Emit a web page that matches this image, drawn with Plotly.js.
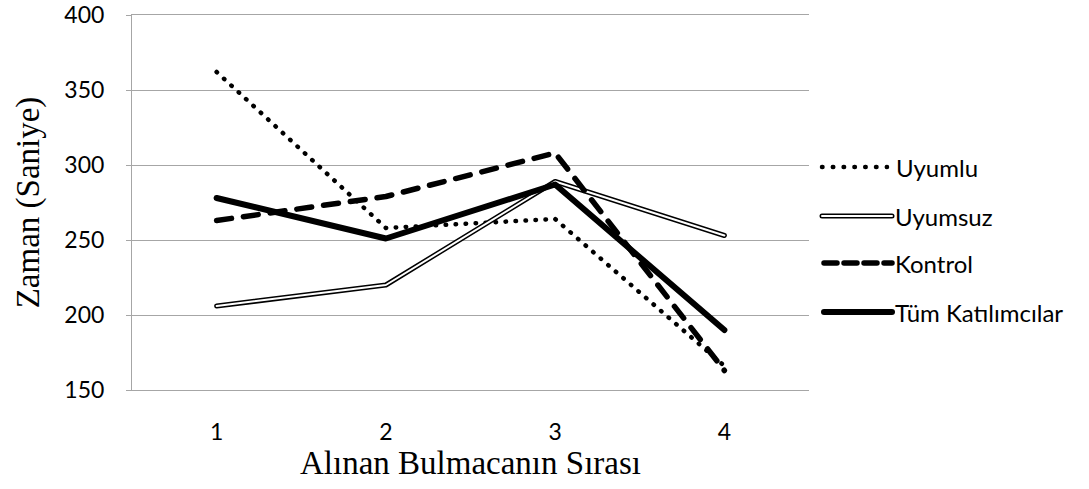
<!DOCTYPE html>
<html>
<head>
<meta charset="utf-8">
<script src="https://cdn.plot.ly/plotly-3.0.1.min.js"></script>
<style>
html,body{margin:0;padding:0;background:#fff;}
#chart{width:1089px;height:489px;}
.scatterlayer path.js-line, .shapelayer path{stroke-linecap:round;stroke-linejoin:round;}
</style>
</head>
<body>
<div id="chart"></div>
<script>
const categories = ['1', '2', '3', '4'];
const uyumlu = [362, 258, 264, 166];
const uyumsuz = [206, 220, 289, 253];
const kontrol = [263, 279, 308, 163];
const tumKatilimcilar = [278, 251, 287, 190];
const seriesNames = ['Uyumlu', 'Uyumsuz', 'Kontrol', 'Tüm Katılımcılar'];
const yTicks = [150, 200, 250, 300, 350, 400];

const W = 1089, H = 489;
const M = {l: 132, r: 280, t: 15, b: 99};
const PW = W - M.l - M.r, PH = H - M.t - M.b;
const px = x => (x - M.l) / PW;
const py = y => (H - M.b - y) / PH;

const grid = '#a6a6a6';
const traces = [
  {x: categories, y: uyumlu, name: seriesNames[0], mode: 'lines',
   line: {color: '#000', width: 4.5, dash: '0.5px,9.5px'}},
  {x: categories, y: uyumsuz, name: seriesNames[1], mode: 'lines',
   line: {color: '#000', width: 5}},
  {x: categories, y: uyumsuz, name: seriesNames[1], mode: 'lines',
   line: {color: '#fff', width: 2}},
  {x: categories, y: kontrol, name: seriesNames[2], mode: 'lines',
   line: {color: '#000', width: 5.5, dash: '15px,12px'}},
  {x: categories, y: tumKatilimcilar, name: seriesNames[3], mode: 'lines',
   line: {color: '#000', width: 6}}
];

// custom legend (double line needs two strokes)
const legendY = [167, 216, 263, 312];
const shapes = [];
const annotations = [];
const lx0 = px(822), lx1 = px(892);
shapes.push({type: 'line', xref: 'paper', yref: 'paper', x0: lx0, x1: px(887), y0: py(legendY[0]), y1: py(legendY[0]),
  line: {color: '#000', width: 4.5, dash: '0.5px,10.3px'}});
shapes.push({type: 'line', xref: 'paper', yref: 'paper', x0: lx0, x1: lx1, y0: py(legendY[1]), y1: py(legendY[1]),
  line: {color: '#000', width: 5}});
shapes.push({type: 'line', xref: 'paper', yref: 'paper', x0: lx0, x1: lx1, y0: py(legendY[1]), y1: py(legendY[1]),
  line: {color: '#fff', width: 2}});
shapes.push({type: 'line', xref: 'paper', yref: 'paper', x0: px(824), x1: lx1, y0: py(legendY[2]), y1: py(legendY[2]),
  line: {color: '#000', width: 5.5, dash: '13px,7px'}});
shapes.push({type: 'line', xref: 'paper', yref: 'paper', x0: px(824), x1: lx1, y0: py(legendY[3]), y1: py(legendY[3]),
  line: {color: '#000', width: 6}});
seriesNames.forEach((n, i) => {
  annotations.push({xref: 'paper', yref: 'paper', x: px(i === 0 ? 894 : 893), y: py(legendY[i]),
    xanchor: 'left', yanchor: 'middle', text: n, showarrow: false,
    font: {family: 'Lato, sans-serif', size: 24, color: '#000'}});
});

const layout = {
  width: W, height: H,
  margin: M,
  paper_bgcolor: '#fff', plot_bgcolor: '#fff',
  showlegend: false,
  xaxis: {
    type: 'category', range: [-0.5, 3.5],
    showgrid: false, zeroline: false,
    showline: true, mirror: true, linecolor: grid, linewidth: 1,
    ticks: '', ticklabelstandoff: 21,
    tickfont: {family: 'Lato, sans-serif', size: 23, color: '#000'},
    title: {text: 'Alınan Bulmacanın Sırası', standoff: 6,
      font: {family: 'Liberation Serif, Times New Roman, serif', size: 33, color: '#000'}},
    fixedrange: true
  },
  yaxis: {
    range: [150, 400], tickvals: yTicks, ticktext: yTicks.map(String),
    showgrid: true, gridcolor: grid, gridwidth: 1,
    zeroline: false, showline: true, linecolor: grid, linewidth: 1,
    ticks: 'outside', ticklen: 5, tickcolor: grid,
    ticklabelstandoff: 17,
    tickfont: {family: 'Lato, sans-serif', size: 23, color: '#000'},
    title: {text: 'Zaman (Saniye)', standoff: 14,
      font: {family: 'Liberation Serif, Times New Roman, serif', size: 33, color: '#000'}},
    fixedrange: true
  },
  shapes: shapes,
  annotations: annotations
};

Plotly.newPlot('chart', traces, layout, {displayModeBar: false, staticPlot: true});
</script>
</body>
</html>
